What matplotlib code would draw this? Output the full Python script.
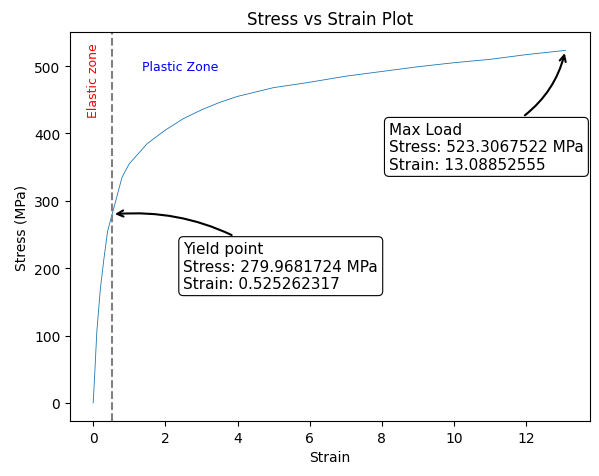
import matplotlib.pyplot as plt

strain = [0, 0.05, 0.1, 0.2, 0.3, 0.4, 0.525262317, 0.65, 0.8, 1.0, 1.25, 1.5, 2.0, 2.5, 3.0,
          3.5, 4.0, 5.0, 6.0, 7.0, 8.0, 9.0, 10.0, 11.0, 12.0, 13.08852555]
stress = [0, 50, 105, 170, 215, 255, 279.9681724, 305, 335, 355, 370, 385, 405, 422, 435,
          446, 455, 468, 476, 485, 492, 499, 505, 510, 517, 523.3067522]

yield_strain, yield_stress = 0.525262317, 279.9681724
max_strain, max_stress = 13.08852555, 523.3067522

fig, ax = plt.subplots(figsize=(5.99, 4.77), dpi=100)
ax.plot(strain, stress, lw=0.6, color='#1f77b4')
ax.axvline(yield_strain, color='gray', ls='--')
ax.text(0, 480, 'Elastic zone', color='red', rotation=90, ha='center', va='center', fontsize=9)
ax.text(1.35, 500, 'Plastic Zone', color='blue', ha='left', va='center', fontsize=9)

box = dict(boxstyle='round', fc='white', ec='black', lw=0.8)
ax.annotate(f'Yield point\nStress: {yield_stress} MPa\nStrain: {yield_strain}',
            xy=(yield_strain, yield_stress), xytext=(2.5, 240), va='top', ha='left',
            fontsize=11, bbox=box,
            arrowprops=dict(arrowstyle='->', color='black', lw=1.5,
                            connectionstyle='arc3,rad=0.2'))
ax.annotate(f'Max Load\nStress: {max_stress} MPa\nStrain: {max_strain}',
            xy=(max_strain, max_stress), xytext=(8.2, 417), va='top', ha='left',
            fontsize=11, bbox=box,
            arrowprops=dict(arrowstyle='->', color='black', lw=1.5,
                            connectionstyle='arc3,rad=0.2', relpos=(0.65, 1.0)))

ax.set_xlim(-0.64, 13.77)
ax.set_ylim(-27, 550)
ax.set_title('Stress vs Strain Plot')
ax.set_xlabel('Strain')
ax.set_ylabel('Stress (MPa)')
fig.subplots_adjust(left=0.117, right=0.985, top=0.93, bottom=0.115)
fig.savefig('out.png', dpi=100)
